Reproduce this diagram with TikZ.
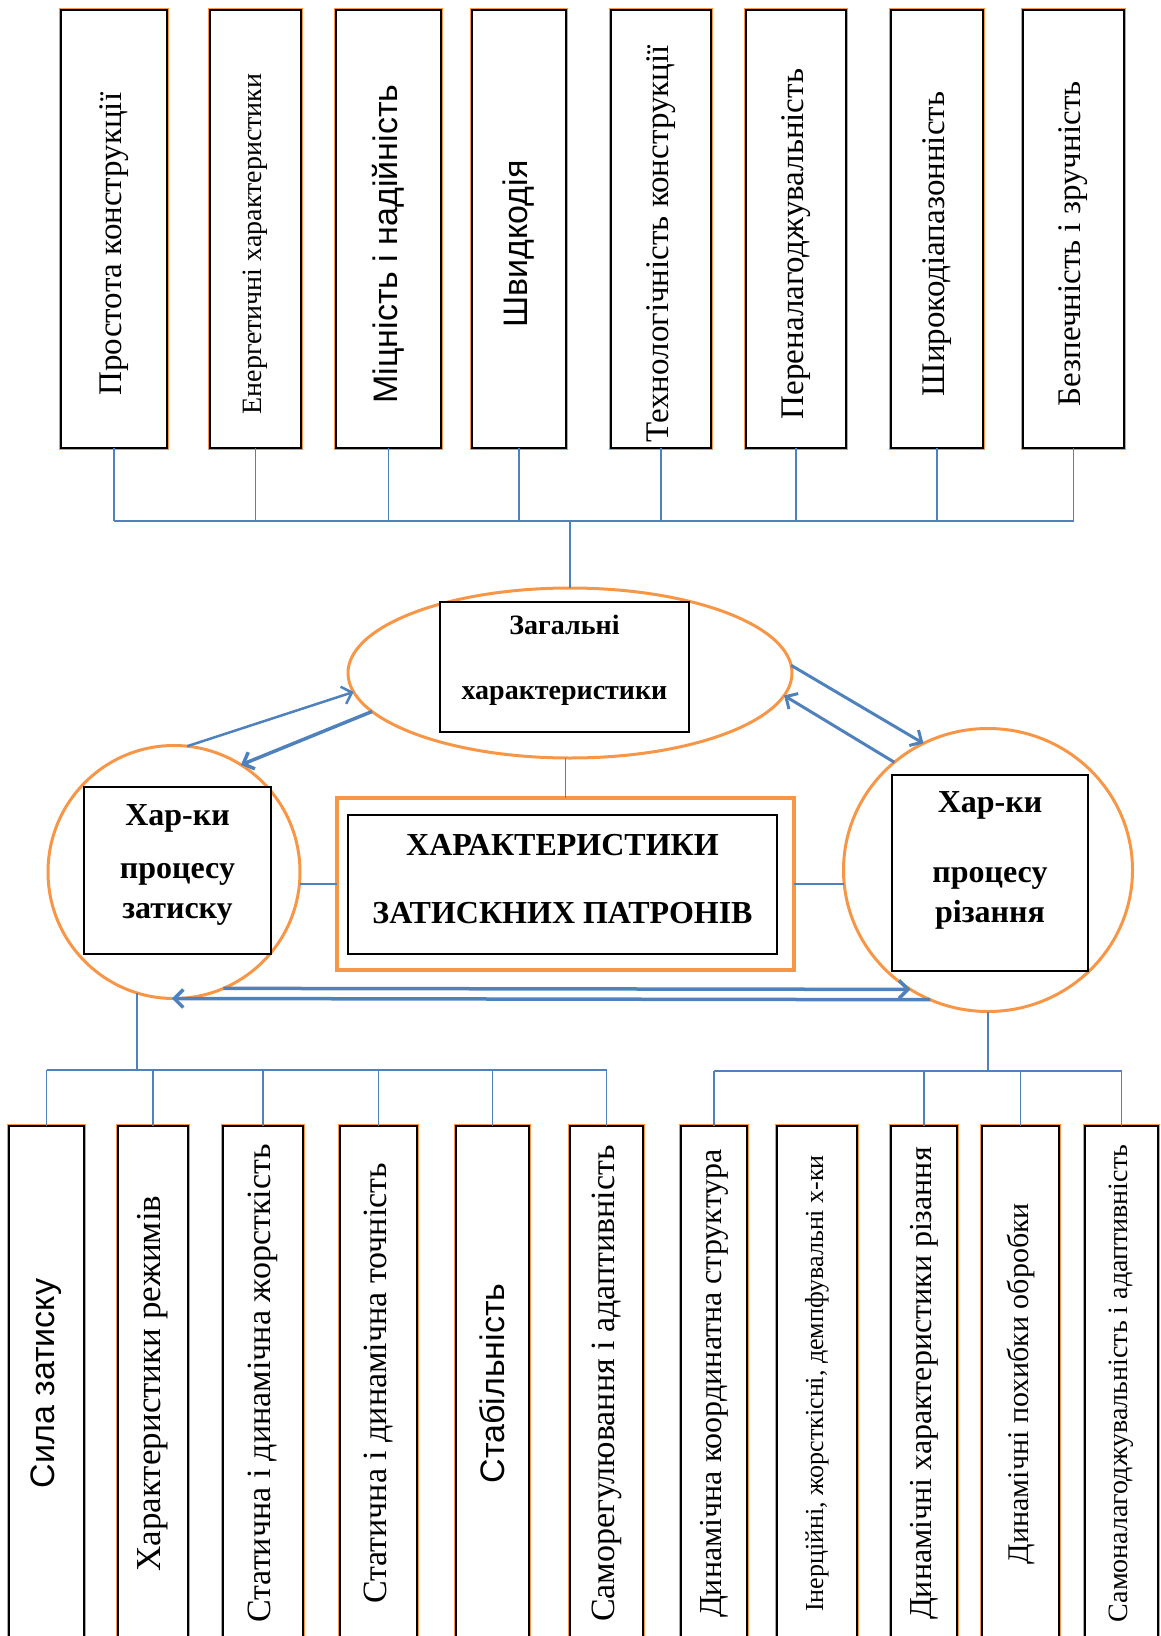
\documentclass[tikz,border=0pt]{standalone}
\usepackage{fontspec}
\setmainfont{Liberation Serif}
\newfontfamily\sansfnt{Liberation Sans}
\usetikzlibrary{shapes.geometric, arrows.meta}
\definecolor{boxorange}{HTML}{F79646}
\definecolor{linkblue}{HTML}{4F81BD}
\newcommand{\uptext}[1]{\rotatebox{90}{#1\hspace{30pt}}}

\begin{document}
\begin{tikzpicture}[x=1pt, y=-1pt,
  every node/.style={inner sep=0pt, outer sep=0pt},
  feat/.style={draw=black, line width=1.3pt, fill=white, preaction={draw=boxorange, line width=4.5pt}},
  topfeat/.style={feat, minimum height=438pt, font=\fontsize{33}{36}\selectfont},
  botfeat/.style={feat, minimum height=515pt, font=\fontsize{34}{36}\selectfont},
  ring/.style={ellipse, draw=boxorange, line width=3pt},
  plainbox/.style={draw=black, line width=1.3pt, fill=white, align=center, font=\bfseries\fontsize{32}{40}\selectfont},
  link/.style={draw=linkblue, line width=1.5pt},
  flow/.style={draw=linkblue, line width=3pt, -{Straight Barb[length=9pt, width=18pt]}}]
\useasboundingbox (0,0) rectangle (1160,1636);
\clip (0,0) rectangle (1160,1636);

% Upper row of features
\node[topfeat, minimum width=106pt] (t1) at (114,229) {\uptext{Простота конструкції}};
\node[topfeat, minimum width=91pt, font=\fontsize{28}{30}\selectfont] (t2) at (255.5,229) {\uptext{Енергетичні характеристики}};
\node[topfeat, minimum width=105pt, font=\sansfnt\fontsize{34}{36}\selectfont] (t3) at (388.5,229) {\uptext{Міцність і надійність}};
\node[topfeat, minimum width=94pt, font=\sansfnt\fontsize{34}{36}\selectfont] (t4) at (519,229) {\uptext{Швидкодія}};
\node[topfeat, minimum width=100pt] (t5) at (661,229) {\uptext{Технологічність конструкції}};
\node[topfeat, minimum width=100pt] (t6) at (796,229) {\uptext{Переналагоджувальність}};
\node[topfeat, minimum width=92pt] (t7) at (937,229) {\uptext{Широкодіапазонність}};
\node[topfeat, minimum width=101pt] (t8) at (1073.5,229) {\uptext{Безпечність і зручність}};

% Middle: the three groups and the main box
\node[ring, minimum width=444pt, minimum height=170pt] (genell) at (570,673) {};
\node[plainbox, minimum width=249pt, minimum height=130pt, text depth=20pt, font=\bfseries\fontsize{28}{33}\selectfont] (gen) at (564.5,667) {Загальні\\[32pt]характеристики};
\node[ring, minimum width=252pt, minimum height=253pt] (lcirc) at (174,872) {};
\node[plainbox, minimum width=187pt, minimum height=167pt, text depth=17pt] (lproc) at (177.5,870.5) {Хар-ки\\[13pt]процесу\\затиску};
\node[ring, minimum width=289pt, minimum height=283pt] (rcirc) at (988,870) {};
\node[plainbox, minimum width=196pt, minimum height=196pt, text depth=31pt] (rproc) at (990,873) {Хар-ки\\[30pt]процесу\\різання};
\node[draw=boxorange, line width=4pt, minimum width=457pt, minimum height=172pt] (main) at (565.5,884) {};
\node[plainbox, minimum width=429pt, minimum height=139pt, text depth=12pt, font=\bfseries\fontsize{32}{38}\selectfont] (maintxt) at (562.5,884.5) {ХАРАКТЕРИСТИКИ\\[30pt]ЗАТИСКНИХ ПАТРОНІВ};

% Lower row of features
\node[botfeat, minimum width=75pt, font=\sansfnt\fontsize{34}{36}\selectfont] (b1) at (46.5,1383.5) {\rotatebox{90}{Сила затиску}};
\node[botfeat, minimum width=70pt, font=\fontsize{35}{36}\selectfont] (b2) at (153,1383.5) {\rotatebox{90}{Характеристики режимів}};
\node[botfeat, minimum width=80pt] (b3) at (263,1383.5) {\rotatebox{90}{Статична і динамічна жорсткість}};
\node[botfeat, minimum width=77pt] (b4) at (378.5,1383.5) {\rotatebox{90}{Статична і динамічна точність}};
\node[botfeat, minimum width=73pt, font=\sansfnt\fontsize{34}{36}\selectfont] (b5) at (492.5,1383.5) {\rotatebox{90}{Стабільність}};
\node[botfeat, minimum width=73pt] (b6) at (606.5,1383.5) {\rotatebox{90}{Саморегулювання і адаптивність}};
\node[botfeat, minimum width=66pt, font=\fontsize{32}{36}\selectfont] (b7) at (714,1383.5) {\rotatebox{90}{Динамічна координатна структура}};
\node[botfeat, minimum width=80pt, font=\fontsize{26}{28}\selectfont] (b8) at (817,1383.5) {\rotatebox{90}{Інерційні, жорсткісні, демпфувальні х-ки}};
\node[botfeat, minimum width=66pt, font=\fontsize{32}{36}\selectfont] (b9) at (924,1383.5) {\rotatebox{90}{Динамічні характеристики різання}};
\node[botfeat, minimum width=77pt, font=\fontsize{30}{32}\selectfont] (b10) at (1020.5,1383.5) {\rotatebox{90}{Динамічні похибки обробки}};
\node[botfeat, minimum width=73pt, font=\fontsize{28}{32}\selectfont] (b11) at (1121.5,1383.5) {\rotatebox{90}{Самоналагоджувальність і адаптивність}};

% Bus points
\coordinate (topbus) at (570,521);
\coordinate (lbus) at (138,1070);
\coordinate (rbus) at (983,1071);

% Upper tree
\draw[link] (t1.south) -- (t1.south |- topbus);
\draw[link] (t2.south) -- (t2.south |- topbus);
\draw[link] (t3.south) -- (t3.south |- topbus);
\draw[link] (t4.south) -- (t4.south |- topbus);
\draw[link] (t5.south) -- (t5.south |- topbus);
\draw[link] (t6.south) -- (t6.south |- topbus);
\draw[link] (t7.south) -- (t7.south |- topbus);
\draw[link] (t8.south) -- (t8.south |- topbus);
\draw[link] (t1.south |- topbus) -- (t8.south |- topbus);
\draw[link] (topbus) -- (genell.north);

% Links round the main box
\draw[link] (main.north) -- (main.north |- genell.south);
\draw[link] (main.west) -- (main.west -| lcirc.east);
\draw[link] (main.east) -- (main.east -| rcirc.west);

% Arrows between the groups
\draw[flow, line width=2.5pt] (lcirc.84) -- (genell.185);
\draw[flow, line width=3.5pt] (genell.191) -- (lcirc.58);
\draw[flow] (genell.2) -- (rcirc.117);
\draw[flow] (rcirc.131) -- (genell.-6);
\draw[flow, line width=3.5pt] (lcirc.-67) -- (rcirc.237);
\draw[flow, line width=3.5pt] (rcirc.246) -- (lcirc.269);

% Lower left tree
\draw[link] (lcirc.253) -- (lcirc.253 |- lbus);
\draw[link] (b1.north |- lbus) -- (b6.north |- lbus);
\draw[link] (b1.north) -- (b1.north |- lbus);
\draw[link] (b2.north) -- (b2.north |- lbus);
\draw[link] (b3.north) -- (b3.north |- lbus);
\draw[link] (b4.north) -- (b4.north |- lbus);
\draw[link] (b5.north) -- (b5.north |- lbus);
\draw[link] (b6.north) -- (b6.north |- lbus);

% Lower right tree
\draw[link] (rcirc.south) -- (rcirc.south |- rbus);
\draw[link] (b7.north |- rbus) -- (b11.north |- rbus);
\draw[link] (b7.north) -- (b7.north |- rbus);
\draw[link] (b9.north) -- (b9.north |- rbus);
\draw[link] (b10.north) -- (b10.north |- rbus);
\draw[link] (b11.north) -- (b11.north |- rbus);
\end{tikzpicture}
\end{document}
